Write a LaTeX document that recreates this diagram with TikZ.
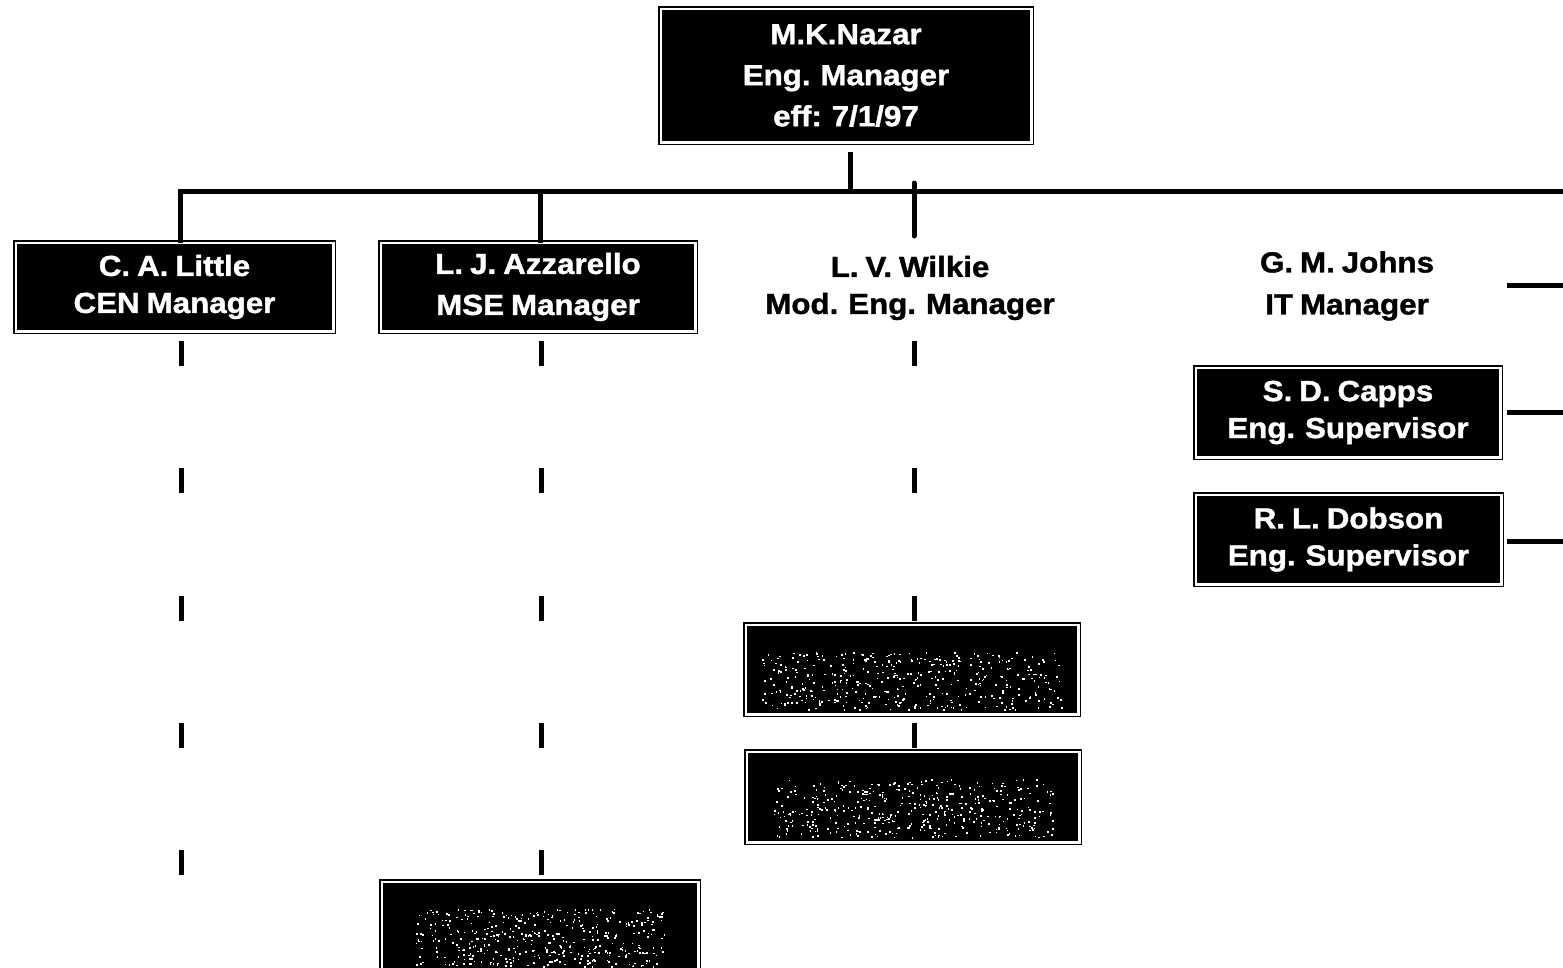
\documentclass[tikz,border=0pt]{standalone}
\usepackage{fontspec}
\newfontfamily\lab[FakeStretch=1.08, WordSpace=0.8, BoldFeatures={FakeBold=1.3}]{Liberation Sans}
\begin{document}
\begin{tikzpicture}[x=1pt,y=-1pt,
  box/.style={fill=black, draw=black, double=white, double distance=2.5pt, line width=1.5pt,
    inner sep=0pt, outer sep=0pt, text=white, align=center,
    font=\lab\bfseries\fontsize{29}{37}\selectfont},
  plain/.style={text=black, align=center, inner sep=0pt,
    font=\lab\bfseries\fontsize{29}{37}\selectfont},
  conn/.style={line width=5pt},
  dashconn/.style={line width=5pt, dash pattern=on 25pt off 102.25pt}]
\clip (0,0) rectangle (1563,967);
\fill[white] (0,0) rectangle (1563,967);

% dashed lines (behind boxes)
\coordinate (dl1) at (181,341); \coordinate (dl2) at (181,876);
\coordinate (da1) at (541,341); \coordinate (da2) at (541,876);
\coordinate (dw1) at (914,341); \coordinate (dw2) at (914,748);
\draw[dashconn] (dl1) -- (dl2);
\draw[dashconn] (da1) -- (da2);
\draw[dashconn] (dw1) -- (dw2);

% boxes
\node[box, minimum width=370.5pt, minimum height=133.5pt,
  font=\lab\bfseries\fontsize{29}{41}\selectfont] (nazar) at (846,75.5) {M.K.Nazar\\Eng. Manager\\eff: 7/1/97};
\node[box, minimum width=317.5pt, minimum height=88.5pt] (little) at (174.5,287) {C. A. Little\\CEN Manager};
\node[box, minimum width=314.5pt, minimum height=88.5pt,
  font=\lab\bfseries\fontsize{29}{41}\selectfont] (azz) at (538,287) {L. J. Azzarello\\MSE Manager};
\node[plain] (wilkie) at (910,288) {L. V. Wilkie\\Mod. Eng. Manager};
\node[plain, font=\lab\bfseries\fontsize{29}{42}\selectfont] (johns) at (1347,286) {G. M. Johns\\IT Manager};
\node[box, minimum width=304.5pt, minimum height=89.5pt] (capps) at (1348,412.5) {S. D. Capps\\Eng. Supervisor};
\node[box, minimum width=305.5pt, minimum height=89.5pt] (dobson) at (1348.5,539.5) {R. L. Dobson\\Eng. Supervisor};
\node[box, minimum width=332.5pt, minimum height=89.5pt] (b1) at (912,669.5) {};
\node[box, minimum width=332.5pt, minimum height=90.5pt] (b2) at (913,797) {};
\node[box, minimum width=316.5pt, minimum height=89.5pt] (b3) at (540,926.5) {};

% speckle in blank boxes
\pgfmathsetseed{7}
\foreach \bx/\wd in {b1/150,b2/140,b3/125}{
  \foreach \i in {1,...,420}{
    \pgfmathsetmacro\dx{rnd*2*\wd-\wd}
    \pgfmathsetmacro\dy{rnd*58-18}
    \fill[white] ([xshift=\dx pt, yshift=-\dy pt]\bx.center) rectangle ++(1.6,1.6);
  }
}

% connectors
\coordinate (busL) at (178,191); \coordinate (busR) at (1570,191);
\draw[conn] (busL) -- (busR);
\coordinate (ns1) at (850,152); \coordinate (ns2) at (850,189);
\draw[conn] (ns1) -- (ns2);
\coordinate (ls) at (180,189);
\draw[conn] (ls) -- (little.north -| ls);
\coordinate (as) at (540,189);
\draw[conn] (as) -- (azz.north -| as);
\coordinate (ws1) at (914,183); \coordinate (ws2) at (914,236);
\draw[conn, line cap=round] (ws1) -- (ws2);
\coordinate (js) at (1507,285); \coordinate (je) at (1570,285);
\draw[conn] (js) -- (je);
\coordinate (cs) at (1507,412); \coordinate (ce) at (1570,412);
\draw[conn] (cs) -- (ce);
\coordinate (ds) at (1507,541); \coordinate (de) at (1570,541);
\draw[conn] (ds) -- (de);
\end{tikzpicture}
\end{document}
